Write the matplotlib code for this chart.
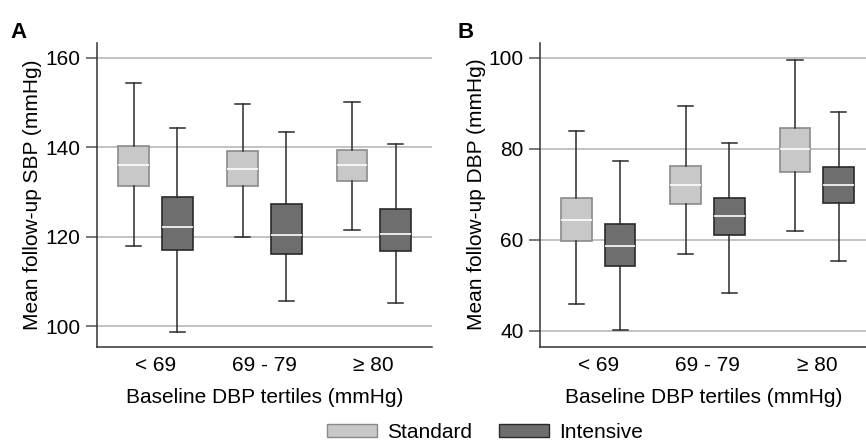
import matplotlib
matplotlib.use("Agg")
import matplotlib.pyplot as plt
from matplotlib.patches import Patch

plt.rcParams['font.family'] = ['Liberation Sans', 'DejaVu Sans']

# --- 데이터 ---
tertiles = ['< 69', '69 - 79', '\u2265 80']

# 패널 A: 추적 SBP
sbp_std_whislo = [117.9, 120.0, 121.6]
sbp_std_q1 = [131.4, 131.4, 132.4]
sbp_std_med = [136.0, 135.2, 136.0]
sbp_std_q3 = [140.3, 139.1, 139.3]
sbp_std_whishi = [154.2, 149.7, 150.0]

sbp_int_whislo = [98.8, 105.6, 105.1]
sbp_int_q1 = [117.1, 116.2, 116.9]
sbp_int_med = [122.1, 120.3, 120.7]
sbp_int_q3 = [128.8, 127.3, 126.1]
sbp_int_whishi = [144.3, 143.3, 140.7]

# 패널 B: 추적 DBP
dbp_std_whislo = [46.0, 57.0, 62.0]
dbp_std_q1 = [59.8, 67.9, 74.8]
dbp_std_med = [64.4, 72.1, 80.0]
dbp_std_q3 = [69.3, 76.3, 84.6]
dbp_std_whishi = [84.0, 89.3, 99.6]

dbp_int_whislo = [40.2, 48.3, 55.4]
dbp_int_q1 = [54.3, 61.1, 68.0]
dbp_int_med = [58.7, 65.3, 72.1]
dbp_int_q3 = [63.4, 69.3, 75.9]
dbp_int_whishi = [77.4, 81.3, 88.0]

STD_FACE, STD_EDGE = '#c8c8c8', '#8a8a8a'
INT_FACE, INT_EDGE = '#6e6e6e', '#2a2a2a'
GRID = '#b8b8b8'
FS = 15


def make_stats(whislo, q1, med, q3, whishi):
    return [dict(whislo=a, q1=b, med=c, q3=d, whishi=e, fliers=[])
            for a, b, c, d, e in zip(whislo, q1, med, q3, whishi)]


def draw_panel(ax, std_stats, int_stats, yticks, ylim, xlim, ylabel):
    for stats, offset, face, edge in [(std_stats, -0.2, STD_FACE, STD_EDGE),
                                      (int_stats, 0.2, INT_FACE, INT_EDGE)]:
        pos = [i + 1 + offset for i in range(len(stats))]
        ax.bxp(stats, positions=pos, widths=0.28, patch_artist=True,
               showfliers=False,
               boxprops=dict(facecolor=face, edgecolor=edge, linewidth=1.2),
               medianprops=dict(color='white', linewidth=1.2),
               whiskerprops=dict(color='#2a2a2a', linewidth=1.1),
               capprops=dict(color='#2a2a2a', linewidth=1.1),
               capwidths=0.14, zorder=3)
    ax.set_xlim(*xlim)
    ax.set_ylim(*ylim)
    ax.set_yticks(yticks)
    ax.set_xticks([1, 2, 3])
    ax.set_xticklabels(tertiles)
    ax.yaxis.grid(True, color=GRID, linewidth=1.2, zorder=0)
    ax.set_axisbelow(True)
    for s in ['top', 'right']:
        ax.spines[s].set_visible(False)
    for s in ['left', 'bottom']:
        ax.spines[s].set_color('#333333')
        ax.spines[s].set_linewidth(1.1)
    ax.tick_params(axis='y', length=8, color='#555555', width=1.1,
                   labelsize=FS, pad=4)
    ax.tick_params(axis='x', length=0, labelsize=FS, pad=7)
    ax.set_xlabel('Baseline DBP tertiles (mmHg)', fontsize=FS, labelpad=9)
    ax.set_ylabel(ylabel, fontsize=FS, labelpad=2)


fig = plt.figure(figsize=(8.66, 4.45), dpi=100)
axA = fig.add_axes([0.112, 0.221, 0.387, 0.683])
axB = fig.add_axes([0.624, 0.221, 0.376, 0.683])

draw_panel(axA,
           make_stats(sbp_std_whislo, sbp_std_q1, sbp_std_med, sbp_std_q3, sbp_std_whishi),
           make_stats(sbp_int_whislo, sbp_int_q1, sbp_int_med, sbp_int_q3, sbp_int_whishi),
           [100, 120, 140, 160], (95.45, 163.3), (0.465, 3.535),
           'Mean follow-up SBP (mmHg)')
draw_panel(axB,
           make_stats(dbp_std_whislo, dbp_std_q1, dbp_std_med, dbp_std_q3, dbp_std_whishi),
           make_stats(dbp_int_whislo, dbp_int_q1, dbp_int_med, dbp_int_q3, dbp_int_whishi),
           [40, 60, 80, 100], (36.55, 103.3), (0.47, 3.45),
           'Mean follow-up DBP (mmHg)')

fig.text(0.012, 0.915, 'A', fontsize=16, fontweight='bold')
fig.text(0.528, 0.915, 'B', fontsize=16, fontweight='bold')

handles = [Patch(facecolor=STD_FACE, edgecolor=STD_EDGE, linewidth=1.0, label='Standard'),
           Patch(facecolor=INT_FACE, edgecolor=INT_EDGE, linewidth=1.0, label='Intensive')]
fig.legend(handles=handles, loc='lower center', bbox_to_anchor=(0.56, -0.035),
           ncol=2, frameon=False, fontsize=FS, handlelength=2.4,
           handleheight=0.65, handletextpad=0.5, columnspacing=1.3)

fig.savefig('out.png', dpi=100)
